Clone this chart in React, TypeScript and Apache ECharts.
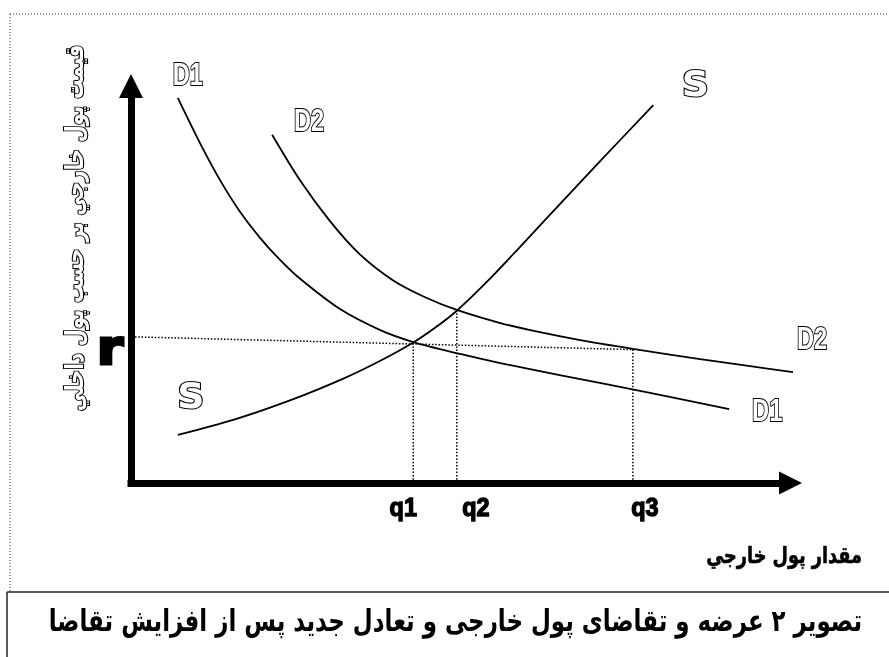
import React, { useEffect, useRef } from "react";
import * as echarts from "echarts";

// Quantity (x) and price (y) readings, on a 0-100 scale for both axes
const D1_Q = [7.1, 10.5, 13.5, 16.5, 19.6, 22.6, 25.6, 31.7, 37.8, 42.8, 49.9, 56.0, 65.0, 78.7, 90.7];
const D1_P = [97.0, 85.5, 76.3, 68.4, 61.7, 56.2, 51.5, 43.8, 38.5, 35.5, 32.5, 30.2, 27.2, 22.7, 18.6];
const D2_Q = [21.4, 25.6, 30.2, 34.7, 39.7, 44.6, 49.4, 56.0, 62.0, 68.1, 76.1, 86.3, 101.3];
const D2_P = [87.7, 76.3, 65.9, 57.6, 51.1, 46.8, 43.6, 40.3, 38.0, 36.0, 33.8, 31.2, 27.7];
const S_Q = [7.1, 15.5, 24.1, 32.2, 37.8, 42.8, 46.1, 49.4, 54.1, 59.0, 62.8, 71.1, 79.2];
const S_P = [12.1, 15.9, 20.8, 26.3, 30.8, 35.4, 39.1, 43.4, 50.9, 59.5, 66.3, 81.0, 95.2];

const Q_LABELS = ["q1", "q2", "q3"];
const Q_VALUES = [42.8, 49.4, 76.1];
const Q_MEET_P = [35.5, 43.5, 33.8];

const R_LABEL = "r";
const R_LINE_Q = [0.6, 76.1];
const R_LINE_P = [36.8, 33.6];

const Y_TITLE = "قیمت پول خارجي بر حسب پول داخلي";
const X_TITLE = "مقدار پول خارجي";
const CAPTION = "تصویر ۲ عرضه و تقاضای پول خارجی و تعادل جدید پس از افزایش تقاضا";

const zip = (a: number[], b: number[]) => a.map((v, i) => [v, b[i]]);
const last = (a: number[]) => a[a.length - 1];

export default function App() {
  const ref = useRef<HTMLDivElement>(null);
  useEffect(() => {
    document.body.style.margin = "0";
    const chart = echarts.init(ref.current!, null, { renderer: "svg" });

    const curve = (name: string, q: number[], p: number[]) => ({
      type: "line",
      name,
      data: zip(q, p),
      smooth: 0.3,
      symbol: "none",
      clip: false,
      lineStyle: { color: "#000", width: 1.8 },
      z: 5,
    });

    const dotted = (name: string, data: number[][]) => ({
      type: "line",
      name,
      data,
      symbol: "none",
      clip: false,
      lineStyle: { color: "#000", width: 1.5, type: [1.5, 1.8] },
      z: 4,
    });

    const axisCommon = {
      type: "value",
      min: 0,
      max: 100,
      axisTick: { show: false },
      axisLabel: { show: false },
      splitLine: { show: false },
    };

    chart.setOption({
      animation: false,
      backgroundColor: "#fff",
      grid: { left: 131, right: 98.5, top: 86, bottom: 174, containLabel: false },
      xAxis: {
        ...axisCommon,
        axisLine: {
          show: true,
          symbol: ["none", "triangle"],
          symbolSize: [23, 23],
          lineStyle: { color: "#000", width: 7, cap: "square" },
        },
      },
      yAxis: {
        ...axisCommon,
        axisLine: {
          show: true,
          symbol: ["none", "triangle"],
          symbolSize: [24, 24],
          lineStyle: { color: "#000", width: 7, cap: "square" },
        },
      },
      series: [
        curve("D1", D1_Q, D1_P),
        curve("D2", D2_Q, D2_P),
        curve("S", S_Q, S_P),
        dotted("r", zip(R_LINE_Q, R_LINE_P)),
        ...Q_VALUES.map((q, i) => dotted(Q_LABELS[i], [[q, 0], [q, Q_MEET_P[i]]])),
      ],
    });

    // Labels anchored to data points through the chart's own scales
    const px = (q: number, p: number) =>
      chart.convertToPixel({ xAxisIndex: 0, yAxisIndex: 0 }, [q, p]) as number[];

    const hollowD = {
      font: "bold 32px 'Liberation Sans', Arial, sans-serif",
      fill: "#fff",
      stroke: "#000",
      lineWidth: 2.1,
    };
    const hollowS = {
      font: "bold 36px 'DejaVu Sans', sans-serif",
      fill: "#fff",
      stroke: "#000",
      lineWidth: 2.1,
    };
    const solidQ = {
      font: "bold 26px 'Liberation Sans', Arial, sans-serif",
      fill: "#000",
      stroke: "#000",
      lineWidth: 1.4,
    };

    const labelDefs: any[] = [
      { text: "D1", at: [D1_Q[0], D1_P[0]], off: [10, -24], style: hollowD, sx: 0.74 },
      { text: "D2", at: [D2_Q[0], D2_P[0]], off: [37, -15], style: hollowD, sx: 0.74 },
      { text: "S", at: [last(S_Q), last(S_P)], off: [42, -21], style: hollowS, sx: 1.05 },
      { text: "S", at: [S_Q[0], S_P[0]], off: [13, -39], style: hollowS, sx: 1.05 },
      { text: "D2", at: [last(D2_Q), last(D2_P)], off: [13, -35], style: hollowD, sx: 0.74 },
      { text: "D1", at: [last(D1_Q), last(D1_P)], off: [38, 1], style: hollowD, sx: 0.74 },
      {
        text: R_LABEL,
        at: [R_LINE_Q[0], R_LINE_P[0]],
        off: [-25, 10],
        style: { font: "bold 48px 'DejaVu Sans', sans-serif", fill: "#000", stroke: "#000", lineWidth: 3 },
        sx: 1.1,
      },
      ...Q_LABELS.map((t, i) => ({
        text: t,
        at: [Q_VALUES[i], 0],
        off: [[-10, 24], [19, 24], [12, 24]][i],
        style: solidQ,
        sx: 0.9,
      })),
    ];

    const labelEls = labelDefs.map((d) => {
      const p = px(d.at[0], d.at[1]);
      return {
        type: "text",
        x: p[0] + d.off[0],
        y: p[1] + d.off[1],
        scaleX: d.sx,
        z: 20,
        style: {
          ...d.style,
          text: d.text,
          align: "center",
          verticalAlign: "middle",
          textAlign: "center",
          textVerticalAlign: "middle",
        },
      };
    });

    chart.setOption({
      graphic: [
        { type: "line", shape: { x1: 10, y1: 14, x2: 889, y2: 14 }, style: { stroke: "#333", lineWidth: 1, lineDash: [1, 2] } },
        { type: "line", shape: { x1: 10, y1: 14, x2: 10, y2: 592 }, style: { stroke: "#333", lineWidth: 1, lineDash: [1, 2] } },
        { type: "line", shape: { x1: 7, y1: 592, x2: 889, y2: 592 }, style: { stroke: "#222", lineWidth: 1.5 } },
        { type: "line", shape: { x1: 7, y1: 592, x2: 7, y2: 657 }, style: { stroke: "#222", lineWidth: 1.5 } },
        {
          type: "text",
          x: 74,
          y: 228,
          rotation: Math.PI / 2,
          scaleX: 0.78,
          style: {
            text: Y_TITLE,
            font: "bold 25px 'DejaVu Sans', sans-serif",
            fill: "#fff",
            stroke: "#000",
            lineWidth: 2.2,
            align: "center",
            verticalAlign: "middle",
            textAlign: "center",
            textVerticalAlign: "middle",
          },
        },
        {
          type: "text",
          x: 862,
          y: 555,
          scaleX: 0.77,
          style: {
            text: X_TITLE,
            font: "bold 23px 'DejaVu Sans', sans-serif",
            fill: "#000",
            stroke: "#000",
            lineWidth: 0.6,
            align: "right",
            verticalAlign: "middle",
            textAlign: "right",
            textVerticalAlign: "middle",
          },
        },
        {
          type: "text",
          x: 862,
          y: 620,
          scaleX: 0.765,
          style: {
            text: CAPTION,
            font: "bold 30px 'DejaVu Sans', sans-serif",
            fill: "#000",
            align: "right",
            verticalAlign: "middle",
            textAlign: "right",
            textVerticalAlign: "middle",
          },
        },
        ...labelEls,
      ],
    });
    return () => chart.dispose();
  }, []);
  return (
    <div
      ref={ref}
      style={{
        position: "fixed",
        left: 0,
        top: 0,
        width: 889,
        height: 657,
        background: "#fff",
        filter: "grayscale(1)",
      }}
    />
  );
}
